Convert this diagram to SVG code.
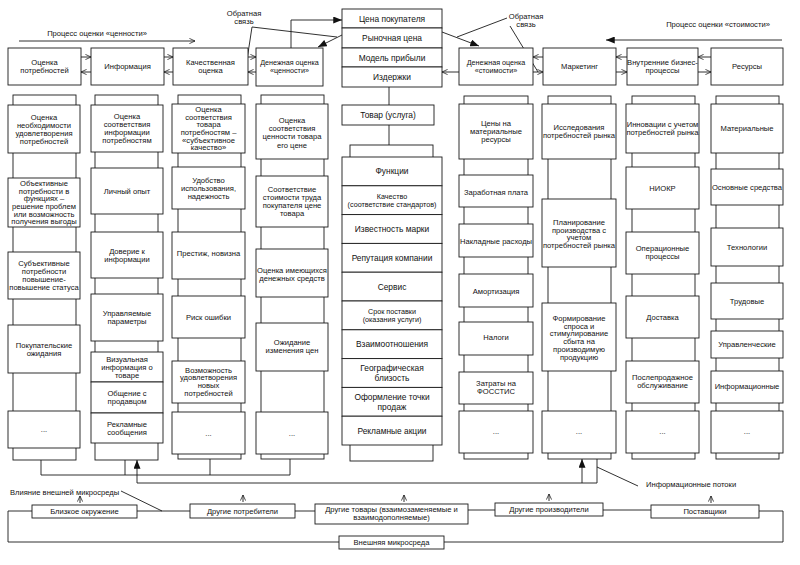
<svg xmlns="http://www.w3.org/2000/svg" width="800" height="565" viewBox="0 0 800 565">
<style>
.b{fill:#fff;stroke:#1a1a1a;stroke-width:0.9}
.l{fill:none;stroke:#1a1a1a;stroke-width:0.9}
.t{font-family:"Liberation Sans",Arial,sans-serif;font-size:7.6px;fill:#111;text-anchor:middle}
.c{font-size:8.4px}
.s{font-size:7.2px}
.st{font-family:"Liberation Sans",Arial,sans-serif;font-size:7.6px;fill:#111}
</style>
<defs>
<marker id="mo" viewBox="0 0 8 8" refX="8" refY="4" markerWidth="6" markerHeight="6" markerUnits="userSpaceOnUse" orient="auto"><path d="M0.5,0.5 L8,4 L0.5,7.5" fill="none" stroke="#1a1a1a" stroke-width="1"/></marker>
<marker id="mf" viewBox="0 0 10 8" refX="10" refY="4" markerWidth="9" markerHeight="7" markerUnits="userSpaceOnUse" orient="auto"><path d="M0,0 L10,4 L0,8 z" fill="#111"/></marker>
</defs>
<rect width="800" height="565" fill="#fff"/>

<g id="process-labels">
<text class="t" x="97" y="35.7">Процесс оценки «ценности»</text>
<text class="t" x="718" y="26.5">Процесс оценки «стоимости»</text>
<text class="t" x="244" y="15.5">Обратная</text>
<text class="t" x="244" y="23.5">связь</text>
<text class="t" x="526" y="18.5">Обратная</text>
<text class="t" x="526" y="26.5">связь</text>
<text class="st" x="10" y="494.7">Влияние внешней микросреды</text>
<text class="st" x="646" y="487">Информационные потоки</text>
</g>

<g id="connectors">
<path class="l" d="M19,41 H195" marker-end="url(#mo)"/>
<path class="l" d="M782,40 H606" marker-end="url(#mf)"/>
<path class="l" d="M81,57 H91" marker-end="url(#mo)"/>
<path class="l" d="M91,72 H81" marker-end="url(#mo)"/>
<path class="l" d="M164,57 H173" marker-end="url(#mo)"/>
<path class="l" d="M173,72 H164" marker-end="url(#mo)"/>
<path class="l" d="M248,57 H256" marker-end="url(#mo)"/>
<path class="l" d="M256,72 H248" marker-end="url(#mo)"/>
<path class="l" d="M543,57 H533" marker-end="url(#mo)"/>
<path class="l" d="M533,72 H543" marker-end="url(#mo)"/>
<path class="l" d="M627,57 H616" marker-end="url(#mo)"/>
<path class="l" d="M616,72 H627" marker-end="url(#mo)"/>
<path class="l" d="M711,57 H698" marker-end="url(#mo)"/>
<path class="l" d="M698,72 H711" marker-end="url(#mo)"/>
<path class="l" d="M291,48 V20 H342" marker-end="url(#mf)"/>
<path class="l" d="M342,35 L318,47" marker-end="url(#mf)"/>
<path class="l" d="M442,32 L479,46" marker-end="url(#mf)"/>
<path class="l" d="M459,72 H442" marker-end="url(#mo)"/>
<path class="l" d="M252,27 L245,73 M252,27 L337,37"/>
<path class="l" d="M457,37 L507,18 M510,26 L538,72"/>
<path class="l" d="M389,87 V105 M389,125 V145"/>
<path class="l" d="M41,460 V475 M125,460 V475 M210,459 V475 M290,459 V475 M41,475 H290"/>
<path class="l" d="M137,483 V460" marker-end="url(#mf)"/>
<path class="l" d="M582,483 V459" marker-end="url(#mf)"/>
<path class="l" d="M137,483 H597 V459"/>
<path class="l" d="M597,467 L638,486"/>
<path class="l" d="M121,491 L162,511"/>
<path class="l" d="M32,511 H8 V542 H339 M444,542 H783 V511 H759 M137,511 H190 M295,511 H315 M468,510 H495 M603,510 H651"/>
<path class="l" d="M80,503 V496" marker-end="url(#mo)"/>
<path class="l" d="M243,502 V495" marker-end="url(#mo)"/>
<path class="l" d="M404,502 V495" marker-end="url(#mo)"/>
<path class="l" d="M549,501 V494" marker-end="url(#mo)"/>
<path class="l" d="M711,503 V496" marker-end="url(#mo)"/>
</g>

<g id="top-ocenka-potrebnostei"><rect class="b" x="8" y="48" width="73" height="37"/><text class="t" x="44.5" y="65.2">Оценка</text><text class="t" x="44.5" y="73.2">потребностей</text></g>
<g id="top-informatsiya"><rect class="b" x="91" y="48" width="73" height="37"/><text class="t" x="127.5" y="69.2">Информация</text></g>
<g id="top-kachestvennaya"><rect class="b" x="173" y="48" width="75" height="37"/><text class="t" x="210.5" y="65.2">Качественная</text><text class="t" x="210.5" y="73.2">оценка</text></g>
<g id="top-den-tsennosti"><rect class="b" x="256" y="48" width="67" height="38"/><text class="t s" x="289.5" y="65.2">Денежная оценка</text><text class="t s" x="289.5" y="73.2">«ценности»</text></g>
<g id="top-center-stack">
<rect class="b" x="342" y="9" width="100" height="19"/><text class="t c" x="392" y="21.5">Цена покупателя</text>
<rect class="b" x="342" y="28" width="100" height="20"/><text class="t c" x="392" y="41">Рыночная цена</text>
<rect class="b" x="342" y="48" width="100" height="19"/><text class="t c" x="392" y="60.5">Модель прибыли</text>
<rect class="b" x="342" y="67" width="100" height="20"/><text class="t c" x="392" y="80">Издержки</text>
</g>
<g id="top-den-stoimosti"><rect class="b" x="459" y="48" width="74" height="37"/><text class="t s" x="496" y="65.2">Денежная оценка</text><text class="t s" x="496" y="73.2">«стоимости»</text></g>
<g id="top-marketing"><rect class="b" x="543" y="48" width="73" height="37"/><text class="t" x="579.5" y="69.2">Маркетинг</text></g>
<g id="top-vnutrennie"><rect class="b" x="627" y="48" width="71" height="37"/><text class="t" x="662.5" y="65.2">Внутренние бизнес-</text><text class="t" x="662.5" y="73.2">процессы</text></g>
<g id="top-resursy"><rect class="b" x="711" y="48" width="72" height="37"/><text class="t" x="747" y="69.2">Ресурсы</text></g>

<g id="col1">
<rect class="b" x="13" y="95" width="63" height="365"/>
<rect class="b" x="8" y="105" width="72" height="48"/>
<text class="t" x="44"><tspan x="44" y="119.7">Оценка</tspan><tspan x="44" y="127.7">необходимости</tspan><tspan x="44" y="135.7">удовлетворения</tspan><tspan x="44" y="143.7">потребностей</tspan></text>
<rect class="b" x="8" y="178" width="72" height="49"/>
<text class="t" x="44"><tspan x="44" y="186.2">Объективные</tspan><tspan x="44" y="193.8">потребности в</tspan><tspan x="44" y="201.4">функциях –</tspan><tspan x="44" y="209">решение проблем</tspan><tspan x="44" y="216.6">или возможность</tspan><tspan x="44" y="224.2">получения выгоды</tspan></text>
<rect class="b" x="8" y="252" width="72" height="47"/>
<text class="t" x="44"><tspan x="44" y="266.2">Субъективные</tspan><tspan x="44" y="274.2">потребности</tspan><tspan x="44" y="282.2">повышение-</tspan><tspan x="44" y="290.2">повышение статуса</tspan></text>
<rect class="b" x="8" y="325" width="72" height="48"/>
<text class="t" x="44"><tspan x="44" y="347.7">Покупательские</tspan><tspan x="44" y="355.7">ожидания</tspan></text>
<rect class="b" x="8" y="411" width="72" height="37"/>
<text class="t" x="44" y="432">...</text>
</g>

<g id="col2">
<rect class="b" x="95" y="95" width="63" height="365"/>
<rect class="b" x="91" y="105" width="72" height="47"/>
<text class="t"><tspan x="127" y="119.2">Оценка</tspan><tspan x="127" y="127.2">соответствия</tspan><tspan x="127" y="135.2">информации</tspan><tspan x="127" y="143.2">потребностям</tspan></text>
<rect class="b" x="91" y="168" width="72" height="46"/>
<text class="t" x="127" y="193.7">Личный опыт</text>
<rect class="b" x="91" y="232" width="72" height="46"/>
<text class="t"><tspan x="127" y="253.7">Доверие к</tspan><tspan x="127" y="261.7">информации</tspan></text>
<rect class="b" x="91" y="294" width="72" height="47"/>
<text class="t"><tspan x="127" y="316.2">Управляемые</tspan><tspan x="127" y="324.2">параметры</tspan></text>
<rect class="b" x="91" y="352" width="72" height="30"/>
<text class="t"><tspan x="127" y="361.7">Визуальная</tspan><tspan x="127" y="369.7">информация о</tspan><tspan x="127" y="377.7">товаре</tspan></text>
<rect class="b" x="91" y="382" width="72" height="31"/>
<text class="t"><tspan x="127" y="396.2">Общение с</tspan><tspan x="127" y="404.2">продавцом</tspan></text>
<rect class="b" x="91" y="413" width="72" height="30"/>
<text class="t"><tspan x="127" y="426.7">Рекламные</tspan><tspan x="127" y="434.7">сообщения</tspan></text>
</g>

<g id="col3">
<rect class="b" x="178" y="95" width="63" height="364"/>
<rect class="b" x="172" y="104" width="73" height="49"/>
<text class="t"><tspan x="208.5" y="112.2">Оценка</tspan><tspan x="208.5" y="119.8">соответствия</tspan><tspan x="208.5" y="127.4">товара</tspan><tspan x="208.5" y="135">потребностям –</tspan><tspan x="208.5" y="142.6">«субъективное</tspan><tspan x="208.5" y="150.2">качество»</tspan></text>
<rect class="b" x="172" y="167" width="73" height="42"/>
<text class="t"><tspan x="208.5" y="182.7">Удобство</tspan><tspan x="208.5" y="190.7">использования,</tspan><tspan x="208.5" y="198.7">надежность</tspan></text>
<rect class="b" x="172" y="232" width="73" height="47"/>
<text class="t" x="208.5" y="256">Престиж, новизна</text>
<rect class="b" x="172" y="296" width="73" height="42"/>
<text class="t" x="208.5" y="319.7">Риск ошибки</text>
<rect class="b" x="172" y="361" width="73" height="42"/>
<text class="t"><tspan x="208.5" y="372.7">Возможность</tspan><tspan x="208.5" y="380.4">удовлетворения</tspan><tspan x="208.5" y="388.1">новых</tspan><tspan x="208.5" y="395.8">потребностей</tspan></text>
<rect class="b" x="172" y="412" width="73" height="42"/>
<text class="t" x="208.5" y="436">...</text>
</g>

<g id="col4">
<rect class="b" x="261" y="95" width="63" height="364"/>
<rect class="b" x="256" y="104" width="72" height="55"/>
<text class="t"><tspan x="292" y="122.7">Оценка</tspan><tspan x="292" y="131">соответствия</tspan><tspan x="292" y="139.3">ценности товара</tspan><tspan x="292" y="147.6">его цене</tspan></text>
<rect class="b" x="256" y="176" width="72" height="51"/>
<text class="t"><tspan x="292" y="191.7">Соответствие</tspan><tspan x="292" y="199.7">стоимости труда</tspan><tspan x="292" y="207.7">покупателя цене</tspan><tspan x="292" y="215.7">товара</tspan></text>
<rect class="b" x="256" y="249" width="72" height="48"/>
<text class="t"><tspan x="292" y="272.7">Оценка имеющихся</tspan><tspan x="292" y="280.7">денежных средств</tspan></text>
<rect class="b" x="256" y="323" width="72" height="48"/>
<text class="t"><tspan x="292" y="344.7">Ожидание</tspan><tspan x="292" y="352.7">изменения цен</tspan></text>
<rect class="b" x="256" y="412" width="72" height="42"/>
<text class="t" x="292" y="436">...</text>
</g>

<g id="tovar"><rect class="b" x="342" y="105" width="92" height="20"/><text class="t c" x="388" y="118">Товар (услуга)</text></g>

<g id="col-center">
<rect class="b" x="350" y="145" width="83" height="316"/>
<rect class="b" x="342" y="157" width="100" height="28.8"/><text class="t c" x="392" y="174.4">Функции</text>
<rect class="b" x="342" y="185.8" width="100" height="28.8"/><text class="t s"><tspan x="392" y="198.5">Качество</tspan><tspan x="392" y="206.5">(соответствие стандартов)</tspan></text>
<rect class="b" x="342" y="214.6" width="100" height="28.8"/><text class="t c" x="392" y="232">Известность марки</text>
<rect class="b" x="342" y="243.4" width="100" height="28.8"/><text class="t c" x="392" y="260.8">Репутация компании</text>
<rect class="b" x="342" y="272.2" width="100" height="28.8"/><text class="t c" x="392" y="289.6">Сервис</text>
<rect class="b" x="342" y="301" width="100" height="28.8"/><text class="t s"><tspan x="392" y="313.9">Срок поставки</tspan><tspan x="392" y="321.9">(оказания услуги)</tspan></text>
<rect class="b" x="342" y="329.8" width="100" height="28.8"/><text class="t c" x="392" y="347.2">Взаимоотношения</text>
<rect class="b" x="342" y="358.6" width="100" height="28.8"/><text class="t c"><tspan x="392" y="371.3">Географическая</tspan><tspan x="392" y="380.7">близость</tspan></text>
<rect class="b" x="342" y="387.4" width="100" height="28.8"/><text class="t c"><tspan x="392" y="400.1">Оформление точки</tspan><tspan x="392" y="409.5">продаж</tspan></text>
<rect class="b" x="342" y="416.2" width="100" height="28.8"/><text class="t c" x="392" y="433.6">Рекламные акции</text>
</g>

<g id="col6">
<rect class="b" x="464" y="96" width="64" height="363"/>
<rect class="b" x="459" y="104" width="74" height="55"/>
<text class="t"><tspan x="496" y="125.7">Цены на</tspan><tspan x="496" y="134">материальные</tspan><tspan x="496" y="142.3">ресурсы</tspan></text>
<rect class="b" x="459" y="175" width="74" height="32"/><text class="t" x="496" y="194.7">Заработная плата</text>
<rect class="b" x="459" y="224" width="74" height="33"/><text class="t" x="496" y="243.7">Накладные расходы</text>
<rect class="b" x="459" y="274" width="74" height="33"/><text class="t" x="496" y="293.7">Амортизация</text>
<rect class="b" x="459" y="322" width="74" height="33"/><text class="t" x="496" y="339.7">Налоги</text>
<rect class="b" x="459" y="372" width="74" height="32"/><text class="t"><tspan x="496" y="385.7">Затраты на</tspan><tspan x="496" y="393.7">ФОССТИС</tspan></text>
<rect class="b" x="459" y="411" width="74" height="42"/><text class="t" x="496" y="434">...</text>
</g>

<g id="col7">
<rect class="b" x="548" y="96" width="63" height="363"/>
<rect class="b" x="542" y="104" width="74" height="55"/>
<text class="t"><tspan x="579" y="129.7">Исследования</tspan><tspan x="579" y="137.7">потребностей рынка</tspan></text>
<rect class="b" x="542" y="199" width="74" height="68"/>
<text class="t"><tspan x="579" y="224.7">Планирование</tspan><tspan x="579" y="232.5">производства с</tspan><tspan x="579" y="240.3">учетом</tspan><tspan x="579" y="248">потребностей рынка</tspan></text>
<rect class="b" x="542" y="303" width="74" height="68"/>
<text class="t"><tspan x="579" y="320.7">Формирование</tspan><tspan x="579" y="328.5">спроса и</tspan><tspan x="579" y="336.3">стимулирование</tspan><tspan x="579" y="344.1">сбыта на</tspan><tspan x="579" y="351.9">производимую</tspan><tspan x="579" y="359.7">продукцию</tspan></text>
<rect class="b" x="542" y="411" width="74" height="42"/><text class="t" x="579" y="434">...</text>
</g>

<g id="col8">
<rect class="b" x="632" y="96" width="63" height="363"/>
<rect class="b" x="626" y="104" width="73" height="49"/>
<text class="t"><tspan x="662.5" y="126.7">Инновации с учетом</tspan><tspan x="662.5" y="135">потребностей рынка</tspan></text>
<rect class="b" x="626" y="167" width="73" height="42"/><text class="t" x="662.5" y="190.7">НИОКР</text>
<rect class="b" x="626" y="232" width="73" height="42"/><text class="t"><tspan x="662.5" y="250.7">Операционные</tspan><tspan x="662.5" y="258.7">процессы</tspan></text>
<rect class="b" x="626" y="296" width="73" height="42"/><text class="t" x="662.5" y="319.7">Доставка</text>
<rect class="b" x="626" y="361" width="73" height="42"/><text class="t"><tspan x="662.5" y="379.7">Послепродажное</tspan><tspan x="662.5" y="387.7">обслуживание</tspan></text>
<rect class="b" x="626" y="411" width="73" height="42"/><text class="t" x="662.5" y="434">...</text>
</g>

<g id="col9">
<rect class="b" x="716" y="96" width="63" height="363"/>
<rect class="b" x="711" y="104" width="72" height="49"/><text class="t" x="747" y="130.7">Материальные</text>
<rect class="b" x="711" y="169" width="72" height="36"/><text class="t" x="747" y="189.7">Основные средства</text>
<rect class="b" x="711" y="228" width="72" height="38"/><text class="t" x="747" y="249.7">Технологии</text>
<rect class="b" x="711" y="283" width="72" height="36"/><text class="t" x="747" y="303.7">Трудовые</text>
<rect class="b" x="711" y="331" width="72" height="27"/><text class="t" x="747" y="346.7">Управленческие</text>
<rect class="b" x="711" y="371" width="72" height="32"/><text class="t" x="747" y="388.7">Информационные</text>
<rect class="b" x="711" y="411" width="72" height="42"/><text class="t" x="747" y="434">...</text>
</g>

<g id="bl-blizkoe"><rect class="b" x="32" y="505" width="105" height="13"/><text class="t" x="84.5" y="514.2">Близкое окружение</text></g>
<g id="bl-potrebiteli"><rect class="b" x="190" y="504" width="105" height="14"/><text class="t" x="242.5" y="513.7">Другие потребители</text></g>
<g id="bl-tovary"><rect class="b" x="315" y="504" width="153" height="20"/><text class="t"><tspan x="391.5" y="512">Другие товары (взаимозаменяемые и</tspan><tspan x="391.5" y="520">взаимодополняемые)</tspan></text></g>
<g id="bl-proizvoditeli"><rect class="b" x="495" y="503" width="108" height="13"/><text class="t" x="549" y="512.2">Другие производители</text></g>
<g id="bl-postavshchiki"><rect class="b" x="651" y="505" width="108" height="13"/><text class="t" x="705" y="514.2">Поставщики</text></g>
<g id="bl-vneshnyaya"><rect class="b" x="339" y="536" width="105" height="13"/><text class="t" x="391.5" y="545.2">Внешняя микросреда</text></g>
</svg>
